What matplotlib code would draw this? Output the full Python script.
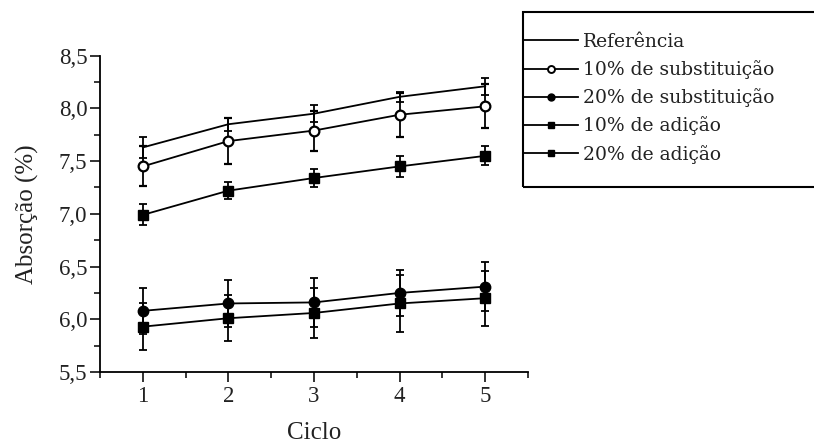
import matplotlib
matplotlib.use("Agg")
import matplotlib.pyplot as plt
from matplotlib.lines import Line2D
from matplotlib.patches import Rectangle
from matplotlib.ticker import MultipleLocator, FuncFormatter

plt.rcParams['font.family'] = ['Liberation Serif', 'DejaVu Serif']

ciclos = [1, 2, 3, 4, 5]
series_names = ["Referência", "10% de substituição", "20% de substituição",
                "10% de adição", "20% de adição"]

ref = [7.63, 7.85, 7.95, 8.11, 8.21]
ref_err = [0.10, 0.06, 0.08, 0.05, 0.08]

sub10 = [7.45, 7.69, 7.79, 7.94, 8.02]
sub10_err = [0.19, 0.22, 0.19, 0.21, 0.21]

sub20 = [6.08, 6.15, 6.16, 6.25, 6.31]
sub20_err = [0.22, 0.22, 0.23, 0.22, 0.235]

adi10 = [6.99, 7.22, 7.34, 7.45, 7.55]
adi10_err = [0.10, 0.08, 0.09, 0.10, 0.09]

adi20 = [5.93, 6.01, 6.06, 6.15, 6.20]
adi20_err = [0.22, 0.22, 0.24, 0.27, 0.26]

W, H = 814, 445
fig = plt.figure(figsize=(W / 100, H / 100), dpi=100)
ax = fig.add_axes([100 / W, 1 - 372 / H, 428 / W, (372 - 55.7) / H])

common = dict(color='black', lw=1.3, elinewidth=1.3, capsize=3, capthick=1.3)
ax.errorbar(ciclos, ref, yerr=ref_err, fmt='-', **common)
ax.errorbar(ciclos, sub10, yerr=sub10_err, fmt='-o', ms=7, mfc='white', mec='black', mew=1.6, **common)
ax.errorbar(ciclos, sub20, yerr=sub20_err, fmt='-o', ms=7.5, mfc='black', mec='black', **common)
ax.errorbar(ciclos, adi10, yerr=adi10_err, fmt='-s', ms=7.5, mfc='black', mec='black', **common)
ax.errorbar(ciclos, adi20, yerr=adi20_err, fmt='-s', ms=7.5, mfc='black', mec='black', **common)

ax.set_xlim(0.5, 5.5)
ax.set_ylim(5.5, 8.5)
ax.xaxis.set_major_locator(MultipleLocator(1))
ax.xaxis.set_minor_locator(MultipleLocator(0.5))
ax.yaxis.set_major_locator(MultipleLocator(0.5))
ax.yaxis.set_minor_locator(MultipleLocator(0.25))
ax.yaxis.set_major_formatter(FuncFormatter(lambda v, p: f"{v:.1f}".replace('.', ',')))
ax.spines['top'].set_visible(False)
ax.spines['right'].set_visible(False)
for s in ('left', 'bottom'):
    ax.spines[s].set_linewidth(1.3)
ax.tick_params(which='major', direction='out', length=7, width=1.3, labelsize=16.5, colors='#222222')
ax.tick_params(which='minor', direction='out', length=4, width=1.1)
ax.tick_params(axis='x', pad=3)
ax.tick_params(axis='y', pad=2)

ax.set_ylabel("Absorção (%)", fontsize=18, labelpad=14, color='#222222')
ax.set_xlabel("Ciclo", fontsize=18, labelpad=11, color='#222222')

# legend frame (extends past the right edge as in the reference)
fig.patches.append(Rectangle((523 / W, 1 - 187 / H), 300 / W, 175 / H,
                             transform=fig.transFigure, fill=False,
                             edgecolor='black', lw=1.5))

handles = [
    Line2D([], [], color='black', lw=1.3),
    Line2D([], [], color='black', lw=1.3, marker='o', ms=5, mfc='white', mec='black', mew=1.4),
    Line2D([], [], color='black', lw=1.3, marker='o', ms=5, mfc='black', mec='black'),
    Line2D([], [], color='black', lw=1.3, marker='s', ms=4.5, mfc='black', mec='black'),
    Line2D([], [], color='black', lw=1.3, marker='s', ms=4.5, mfc='black', mec='black'),
]
leg = fig.legend(handles, series_names, loc='upper left',
                 bbox_to_anchor=(524 / W, 1 - 33 / H),
                 frameon=False, prop={'family': 'DejaVu Serif', 'size': 13.5},
                 handlelength=2.9, handletextpad=0.27, labelspacing=0.49,
                 borderaxespad=0, borderpad=0)
for t in leg.get_texts():
    t.set_color('#222222')

fig.savefig("out.png", dpi=100)
